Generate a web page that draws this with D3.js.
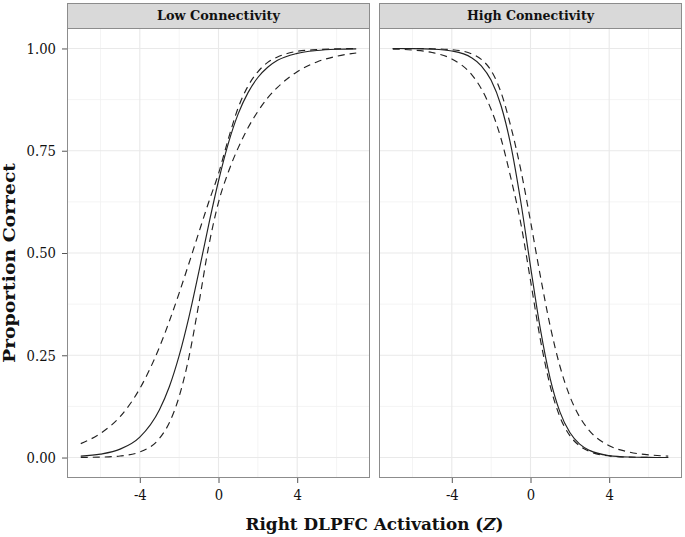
<!DOCTYPE html>
<html>
<head>
<meta charset="utf-8">
<script src="https://cdn.jsdelivr.net/npm/d3@7"></script>
<style>
  html, body { margin: 0; padding: 0; background: #fff; }
  svg { display: block; }
  text { font-family: "DejaVu Serif", serif; fill: #111; }
</style>
</head>
<body>
<svg id="chart" width="685" height="537"></svg>
<script>
// ---- data ----
const panels = ["Low Connectivity", "High Connectivity"];
const activation = [-7, -6, -5, -4, -3, -2.5, -2, -1.5, -1, -0.5, 0, 0.5, 1, 1.5, 2, 2.5, 3, 4, 5, 6, 7];

const lowFit   = [0.0033, 0.0083, 0.0206, 0.050, 0.117, 0.173, 0.249, 0.344, 0.454, 0.569, 0.676, 0.768, 0.840, 0.892, 0.929, 0.954, 0.971, 0.988, 0.995, 0.998, 0.999];
const lowUpper = [0.034, 0.059, 0.100, 0.1685, 0.270, 0.333, 0.402, 0.475, 0.550, 0.624, 0.694, 0.779, 0.855, 0.908, 0.943, 0.966, 0.979, 0.993, 0.997, 0.999, 0.9997];
const lowLower = [0.0003, 0.0011, 0.0038, 0.0136, 0.0469, 0.085, 0.149, 0.246, 0.376, 0.516, 0.624, 0.698, 0.757, 0.806, 0.846, 0.879, 0.905, 0.943, 0.967, 0.981, 0.989];

const highFit   = [0.99987, 0.99953, 0.99829, 0.99376, 0.9775, 0.9577, 0.9220, 0.8606, 0.7631, 0.6271, 0.4675, 0.3143, 0.1931, 0.1111, 0.0612, 0.0329, 0.0175, 0.0048, 0.0013, 0.0004, 0.0001];
const highUpper = [0.99996, 0.99984, 0.9993, 0.9970, 0.9870, 0.9732, 0.9457, 0.8929, 0.8092, 0.7050, 0.5779, 0.4440, 0.3215, 0.2225, 0.1496, 0.0992, 0.0654, 0.0290, 0.0135, 0.0067, 0.0035];
const highLower = [0.9985, 0.9961, 0.9900, 0.9744, 0.9365, 0.9016, 0.8507, 0.7799, 0.6835, 0.5744, 0.4329, 0.2891, 0.1751, 0.0989, 0.0536, 0.0285, 0.0148, 0.0040, 0.0010, 0.0003, 0.0001];

const yTicks = [0, 0.25, 0.5, 0.75, 1];
const yMinor = [0.125, 0.375, 0.625, 0.875];
const xTicks = [-4, 0, 4];
const xMinor = [-6, -2, 2, 6];

const series = [
  { fit: lowFit, upper: lowUpper, lower: lowLower },
  { fit: highFit, upper: highUpper, lower: highLower }
];

// ---- layout ----
const svg = d3.select("#chart");
const panelW = 303, panelGap = 9, panelX0 = 67;
const stripTop = 3, stripH = 25, panelTop = stripTop + stripH, panelBottom = 478;
const panelH = panelBottom - panelTop;

const x = d3.scaleLinear().domain([-7.7, 7.7]).range([0, panelW]);
const y = d3.scaleLinear().domain([-0.05, 1.05]).range([panelH, 0]);

const borderCol = "#8c8c8c";

// narrow DejaVu glyphs a little so they read like a schoolbook face
function squeeze(sel, factor) {
  sel.each(function () {
    const w = this.getComputedTextLength();
    if (w > 0) {
      d3.select(this).attr("textLength", (w * factor).toFixed(2)).attr("lengthAdjust", "spacingAndGlyphs");
    }
  });
}
function setLength(sel, target) {
  sel.attr("textLength", target).attr("lengthAdjust", "spacingAndGlyphs");
}

panels.forEach((name, i) => {
  const px = panelX0 + i * (panelW + panelGap);
  const g = svg.append("g").attr("transform", `translate(${px},${panelTop})`);

  g.append("rect").attr("width", panelW).attr("height", panelH).attr("fill", "#fff");

  // minor grid
  g.selectAll(".xm").data(xMinor).join("line")
    .attr("x1", d => x(d)).attr("x2", d => x(d)).attr("y1", 0).attr("y2", panelH)
    .attr("stroke", "#f1f1f1").attr("stroke-width", 0.8);
  g.selectAll(".ym").data(yMinor).join("line")
    .attr("y1", d => y(d)).attr("y2", d => y(d)).attr("x1", 0).attr("x2", panelW)
    .attr("stroke", "#f1f1f1").attr("stroke-width", 0.8);
  // major grid
  g.selectAll(".xg").data(xTicks).join("line")
    .attr("x1", d => x(d)).attr("x2", d => x(d)).attr("y1", 0).attr("y2", panelH)
    .attr("stroke", "#e9e9e9").attr("stroke-width", 1.1);
  g.selectAll(".yg").data(yTicks).join("line")
    .attr("y1", d => y(d)).attr("y2", d => y(d)).attr("x1", 0).attr("x2", panelW)
    .attr("stroke", "#e9e9e9").attr("stroke-width", 1.1);

  // lines
  const s = series[i];
  const mk = arr => activation.map((a, k) => [a, arr[k]]);
  const line = d3.line().x(d => x(d[0])).y(d => y(d[1])).curve(d3.curveMonotoneX);
  [s.upper, s.lower].forEach(arr => {
    g.append("path").attr("d", line(mk(arr))).attr("fill", "none")
      .attr("stroke", "#222").attr("stroke-width", 1.15).attr("stroke-dasharray", "7,5");
  });
  g.append("path").attr("d", line(mk(s.fit))).attr("fill", "none")
    .attr("stroke", "#222").attr("stroke-width", 1.15);

  // border
  g.append("rect").attr("x", 0.5).attr("y", 0.5).attr("width", panelW - 1).attr("height", panelH - 1)
    .attr("fill", "none").attr("stroke", borderCol).attr("stroke-width", 1);

  // x axis
  const xAxis = d3.axisBottom(x).tickValues(xTicks).tickSize(5).tickPadding(6)
    .tickFormat(d => (d < 0 ? "-" + Math.abs(d) : String(d)));
  const ax = g.append("g").attr("transform", `translate(0,${panelH})`).call(xAxis);
  ax.select(".domain").remove();
  ax.selectAll(".tick line").attr("stroke", "#555");
  const xtt = ax.selectAll(".tick text").attr("font-family", "DejaVu Serif").attr("font-size", 15)
    .attr("fill", "#111").attr("dy", "0.71em");
  squeeze(xtt, 0.88);

  // strip
  const sg = svg.append("g").attr("transform", `translate(${px},${stripTop})`);
  sg.append("rect").attr("x", 0.5).attr("y", 0.5).attr("width", panelW - 1).attr("height", stripH)
    .attr("fill", "#d9d9d9").attr("stroke", borderCol).attr("stroke-width", 1);
  const st = sg.append("text").attr("x", panelW / 2).attr("y", 17).attr("text-anchor", "middle")
    .attr("font-weight", "bold").attr("font-size", 13).text(name);
  setLength(st, i === 0 ? 123 : 127);
});

// y axis
const yAxis = d3.axisLeft(y).tickValues(yTicks).tickSize(5).tickPadding(6).tickFormat(d3.format(".2f"));
const ay = svg.append("g").attr("transform", `translate(${panelX0},${panelTop})`).call(yAxis);
ay.select(".domain").remove();
ay.selectAll(".tick line").attr("stroke", "#555");
const ytt = ay.selectAll(".tick text").attr("font-family", "DejaVu Serif").attr("font-size", 15).attr("fill", "#111");
squeeze(ytt, 0.88);

// axis titles
const plotCenter = panelX0 + panelW + panelGap / 2;
const xt = svg.append("text").attr("x", plotCenter).attr("y", 530).attr("text-anchor", "middle")
  .attr("font-weight", "bold").attr("font-size", 16.5);
xt.append("tspan").text("Right DLPFC Activation (");
xt.append("tspan").attr("font-style", "italic").text("Z");
xt.append("tspan").text(")");
setLength(xt, 258);

const yt = svg.append("text").attr("transform", `translate(14.5,263) rotate(-90)`)
  .attr("text-anchor", "middle").attr("font-weight", "bold").attr("font-size", 16.5)
  .text("Proportion Correct");
setLength(yt, 200);
</script>
</body>
</html>
